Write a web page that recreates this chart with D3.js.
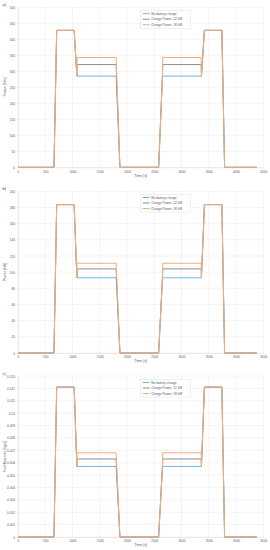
<!DOCTYPE html>
<html>
<head>
<meta charset="utf-8">
<script src="https://cdn.jsdelivr.net/npm/d3@7"></script>
<style>
body { margin: 0; background: #fff; }
svg { display: block; font-family: "Liberation Sans", Arial, sans-serif; }
</style>
</head>
<body>
<div id="chart"></div>
<script>
var width = 270, height = 550;

// time axis shared by all three panels [s]
var time = [0, 660, 710, 1030, 1080, 1085, 1800, 1870, 2580, 2650, 2655, 3360, 3365, 3420, 3740, 3790, 4380];

var seriesNames = ["No battery charge", "Charge Power: 12 kW", "Charge Power: 18 kW"];
var seriesColors = ["#6cb8e6", "#8f8f8f", "#f8ac78"];

// a) torque [Nm]
var torqueNoCharge = [0, 0, 428, 428, 285, 285, 285, 0, 0, 285, 285, 285, 285, 428, 428, 0, 0];
var torque12 = [0, 0, 428, 428, 285, 321, 321, 0, 0, 285, 321, 321, 285, 428, 428, 0, 0];
var torque18 = [0, 0, 428, 428, 285, 343, 343, 0, 0, 285, 343, 343, 285, 428, 428, 0, 0];

// b) power [kW]
var powerNoCharge = [0, 0, 183.5, 183.5, 93, 93, 93, 0, 0, 93, 93, 93, 93, 183.5, 183.5, 0, 0];
var power12 = [0, 0, 183.5, 183.5, 93, 104, 104, 0, 0, 93, 104, 104, 93, 183.5, 183.5, 0, 0];
var power18 = [0, 0, 183.5, 183.5, 93, 111, 111, 0, 0, 93, 111, 111, 93, 183.5, 183.5, 0, 0];

// c) fuel flow rate [kg/s]
var fuelNoCharge = [0, 0, 0.0121, 0.0121, 0.0057, 0.0057, 0.0057, 0, 0, 0.0057, 0.0057, 0.0057, 0.0057, 0.0121, 0.0121, 0, 0];
var fuel12 = [0, 0, 0.0121, 0.0121, 0.0057, 0.0063, 0.0063, 0, 0, 0.0057, 0.0063, 0.0063, 0.0057, 0.0121, 0.0121, 0, 0];
var fuel18 = [0, 0, 0.0121, 0.0121, 0.0057, 0.0068, 0.0068, 0, 0, 0.0057, 0.0068, 0.0068, 0.0057, 0.0121, 0.0121, 0, 0];

var xTicks = d3.range(0, 4501, 500);

var panels = [
  { tag: "a)", ylabel: "Torque [Nm]", series: [torqueNoCharge, torque12, torque18],
    ymax: 500, ystep: 50, fmt: d => d, top: 7.3, bottom: 167.3, xlab: 176.5, legY: 10.7 },
  { tag: "b)", ylabel: "Power [kW]", series: [powerNoCharge, power12, power18],
    ymax: 200, ystep: 20, fmt: d => d, top: 191.3, bottom: 353, xlab: 361.5, legY: 194.5 },
  { tag: "c)", ylabel: "Fuel flow rate [kg/s]", series: [fuelNoCharge, fuel12, fuel18],
    ymax: 0.013, ystep: 0.001, fmt: d => +d.toFixed(3), top: 376, bottom: 537, xlab: 545.5, legY: 379.5 }
];

var svg = d3.select("#chart").append("svg").attr("width", width).attr("height", height);

var left = 18, right = 263.3;
var x = d3.scaleLinear().domain([0, 4500]).range([left, right]);

panels.forEach(p => {
  var y = d3.scaleLinear().domain([0, p.ymax]).range([p.bottom, p.top]);
  var yTicks = d3.range(0, Math.round(p.ymax / p.ystep) + 1).map(i => i * p.ystep);
  var g = svg.append("g");

  // grid
  g.append("g").selectAll("line").data(yTicks).enter().append("line")
    .attr("x1", left).attr("x2", right)
    .attr("y1", d => y(d)).attr("y2", d => y(d))
    .attr("stroke", "#e8e8e8").attr("stroke-width", 0.5);
  g.append("g").selectAll("line").data(xTicks).enter().append("line")
    .attr("x1", d => x(d)).attr("x2", d => x(d))
    .attr("y1", p.top).attr("y2", p.bottom)
    .attr("stroke", "#e8e8e8").attr("stroke-width", 0.5);

  // axes
  var xa = g.append("g").attr("transform", "translate(0," + p.bottom + ")")
    .call(d3.axisBottom(x).tickValues(xTicks).tickFormat(d3.format("d")).tickSize(0).tickPadding(3));
  xa.select(".domain").attr("stroke", "#d9d9d9").attr("stroke-width", 0.5);
  xa.selectAll("text").attr("font-size", 3.2).attr("fill", "#595959");

  var ya = g.append("g").attr("transform", "translate(" + left + ",0)")
    .call(d3.axisLeft(y).tickValues(yTicks).tickFormat(p.fmt).tickSize(0).tickPadding(3));
  ya.select(".domain").attr("stroke", "#d9d9d9").attr("stroke-width", 0.5);
  ya.selectAll("text").attr("font-size", 3.2).attr("fill", "#595959");

  g.append("text").attr("x", (left + right) / 2).attr("y", p.xlab)
    .attr("text-anchor", "middle").attr("font-size", 3.6).attr("fill", "#595959")
    .text("Time [s]");
  g.append("text")
    .attr("transform", "translate(6," + ((p.top + p.bottom) / 2) + ") rotate(-90)")
    .attr("text-anchor", "middle").attr("font-size", 3.6).attr("fill", "#595959")
    .text(p.ylabel);
  g.append("text").attr("x", 2.5).attr("y", p.top - 1.5)
    .attr("font-size", 4).attr("fill", "#333").text(p.tag);

  // lines
  var line = d3.line().x((d, i) => x(time[i])).y(d => y(d));
  p.series.forEach((s, k) => {
    g.append("path").datum(s).attr("d", line)
      .attr("fill", "none").attr("stroke", seriesColors[k])
      .attr("stroke-width", 1).attr("stroke-linejoin", "round");
  });

  // legend
  var lg = g.append("g").attr("transform", "translate(140.7," + p.legY + ")");
  lg.append("rect").attr("width", 49.5).attr("height", 17.5)
    .attr("fill", "#fff").attr("stroke", "#d9d9d9").attr("stroke-width", 0.4);
  seriesNames.forEach((n, k) => {
    var yy = 3 + k * 5.5;
    lg.append("line").attr("x1", 2).attr("x2", 9).attr("y1", yy).attr("y2", yy)
      .attr("stroke", seriesColors[k]).attr("stroke-width", 1);
    lg.append("text").attr("x", 10.5).attr("y", yy + 1.1)
      .attr("font-size", 3.2).attr("fill", "#595959").text(n);
  });
});
</script>
</body>
</html>
